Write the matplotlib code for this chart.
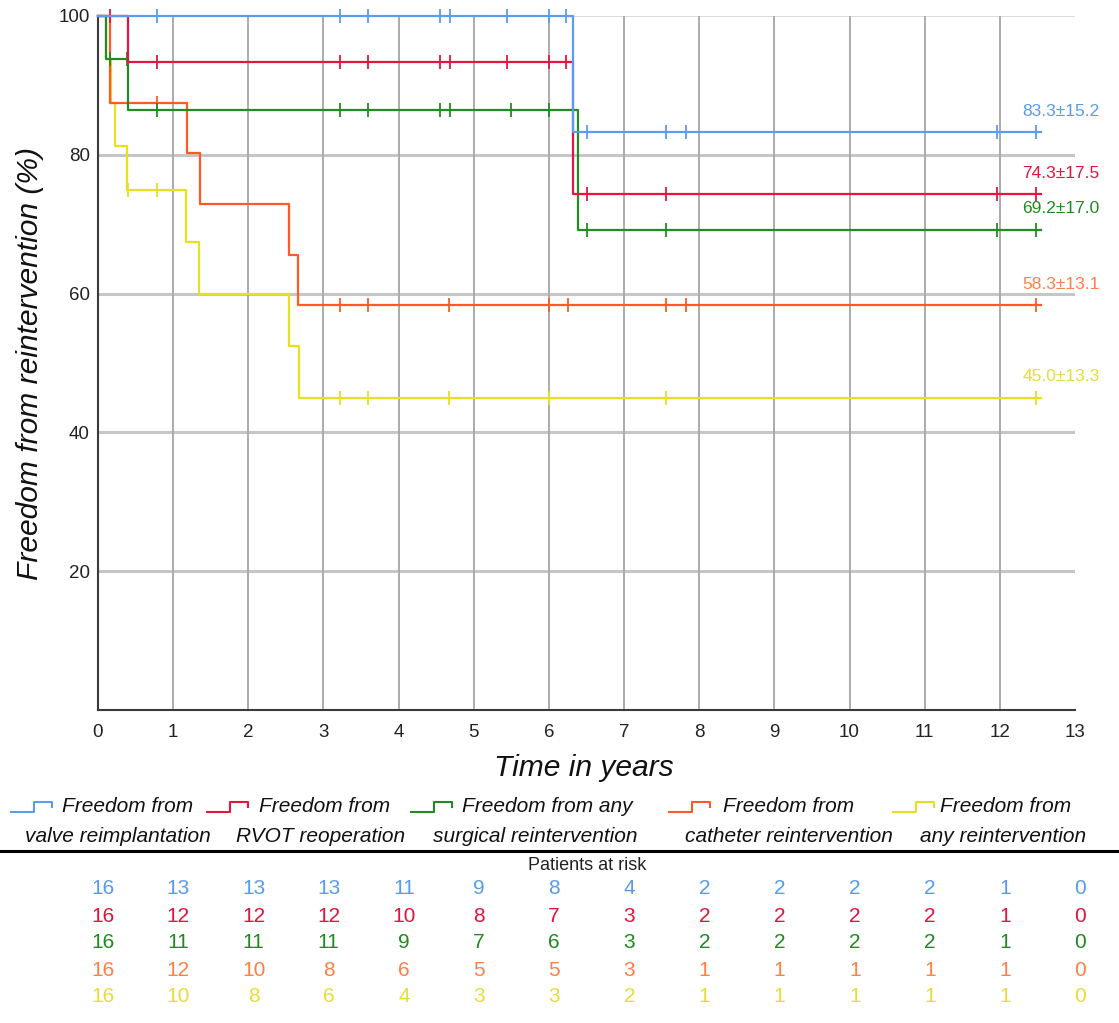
import numpy as np
import matplotlib.pyplot as plt
import matplotlib.transforms as mtransforms
from matplotlib.lines import Line2D

plt.rcParams['font.family'] = ['Liberation Sans', 'DejaVu Sans']

#%% data
years = np.arange(0, 14)

valve_t = [0, 6.32, 12.55]
valve_s = [100, 83.3, 83.3]
valve_cens = [0.79, 3.22, 3.59, 4.55, 4.68, 5.44, 6.0, 6.23, 6.5, 7.56, 7.83, 11.96, 12.48]

rvot_t = [0, 0.40, 6.32, 12.55]
rvot_s = [100, 93.3, 74.3, 74.3]
rvot_cens = [0.16, 0.79, 3.22, 3.59, 4.55, 4.68, 5.44, 6.0, 6.23, 6.5, 7.56, 11.96, 12.48]

surg_t = [0, 0.10, 0.40, 6.39, 12.55]
surg_s = [100, 93.75, 86.5, 69.2, 69.2]
surg_cens = [0.16, 0.39, 0.79, 3.22, 3.59, 4.55, 4.68, 5.49, 6.0, 6.5, 7.56, 11.96, 12.48]

cath_t = [0, 0.16, 1.18, 1.36, 2.54, 2.66, 12.55]
cath_s = [100, 87.5, 80.2, 72.9, 65.6, 58.3, 58.3]
cath_cens = [0.79, 3.22, 3.59, 4.67, 6.0, 6.25, 7.56, 7.83, 12.48]

any_t = [0, 0.10, 0.17, 0.22, 0.38, 1.17, 1.35, 2.54, 2.67, 12.55]
any_s = [100, 93.75, 87.5, 81.25, 75, 67.5, 60, 52.5, 45, 45]
any_cens = [0.40, 0.79, 3.22, 3.59, 4.67, 6.0, 7.56, 12.48]

final_labels = ['83.3±15.2', '74.3±17.5', '69.2±17.0', '58.3±13.1', '45.0±13.3']

risk_valve = [16, 13, 13, 13, 11, 9, 8, 4, 2, 2, 2, 2, 1, 0]
risk_rvot = [16, 12, 12, 12, 10, 8, 7, 3, 2, 2, 2, 2, 1, 0]
risk_surg = [16, 11, 11, 11, 9, 7, 6, 3, 2, 2, 2, 2, 1, 0]
risk_cath = [16, 12, 10, 8, 6, 5, 5, 3, 1, 1, 1, 1, 1, 0]
risk_any = [16, 10, 8, 6, 4, 3, 3, 2, 1, 1, 1, 1, 1, 0]

legend_line1 = ['Freedom from', 'Freedom from', 'Freedom from any', 'Freedom from', 'Freedom from']
legend_line2 = ['valve reimplantation', 'RVOT reoperation', 'surgical reintervention',
                'catheter reintervention', 'any reintervention']

line_cols = ['#5b9cf0', '#e5153f', '#238b23', '#ff5a26', '#e6e01e']
text_cols = ['#5a9be8', '#e0143c', '#1f8a1f', '#ff7f45', '#e6dc3a']

series = [(valve_t, valve_s, valve_cens), (rvot_t, rvot_s, rvot_cens),
          (surg_t, surg_s, surg_cens), (cath_t, cath_s, cath_cens),
          (any_t, any_s, any_cens)]
risks = [risk_valve, risk_rvot, risk_surg, risk_cath, risk_any]


def surv_at(t, s, x):
    idx = np.searchsorted(t, x, side='right') - 1
    return np.asarray(s)[idx]


W, H = 1119, 1023
fx = lambda px: px / W
fy = lambda py: 1 - py / H

fig = plt.figure(figsize=(W / 100, H / 100), dpi=100)
ax = fig.add_axes([fx(98), fy(710), (1075 - 98) / W, (710 - 16) / H])

# grid
for yv in [20, 40, 60, 80]:
    ax.axhline(yv, color='#c6c6c6', lw=2.2, zorder=0)
ax.axhline(100, color='#dcdcdc', lw=1.5, zorder=0)
for xv in range(1, 13):
    ax.axvline(xv, color='#ababab', lw=1.4, zorder=0)

# curves, drawn back to front
for i in [4, 3, 2, 1, 0]:
    t, s, c = series[i]
    ax.step(t, s, where='post', color=line_cols[i], lw=1.6, clip_on=False, zorder=2 + (4 - i))
    ax.plot(c, surv_at(t, s, c), ls='none', marker='|', ms=10, mew=1.3,
            color=line_cols[i], clip_on=False, zorder=2 + (4 - i))
    ax.text(12.3, s[-1] + 3.0, final_labels[i], color=text_cols[i], fontsize=12.5,
            ha='left', va='center')

ax.set_xlim(0, 13)
ax.set_ylim(0, 100)
ax.set_xticks(years)
ax.set_yticks([20, 40, 60, 80, 100])
ax.tick_params(length=0, labelsize=13.5, colors='#222222')
ax.tick_params(axis='x', pad=10)
ax.tick_params(axis='y', pad=6)
for sp in ['top', 'right']:
    ax.spines[sp].set_visible(False)
for sp in ['left', 'bottom']:
    ax.spines[sp].set_color('#3a3a3a')
    ax.spines[sp].set_linewidth(1.5)

fig.text(fx(30), fy(363), 'Freedom from reintervention (%)', rotation=90, fontsize=21.6,
         style='italic', ha='center', va='center', color='#111111')
fig.text(fx(584), fy(768), 'Time in years', fontsize=21.6, style='italic',
         ha='center', va='center', color='#111111')

# legend with little step icons
icon_x = [11, 207, 411, 669, 893]
text1_x = [62, 259, 462, 723, 940]
text2_c = [118, 321, 535, 789, 1003]
for i in range(5):
    x0 = icon_x[i]
    xs = [x0, x0 + 23, x0 + 23, x0 + 41, x0 + 41]
    ys = [812, 812, 802, 802, 807]
    fig.add_artist(Line2D([fx(v) for v in xs], [fy(v) for v in ys], color=line_cols[i],
                          lw=1.5, transform=fig.transFigure))
    fig.text(fx(text1_x[i]), fy(806), legend_line1[i], fontsize=15, style='italic',
             ha='left', va='center', color='#111111')
    fig.text(fx(text2_c[i]), fy(836), legend_line2[i], fontsize=15, style='italic',
             ha='center', va='center', color='#111111')

fig.add_artist(Line2D([0, 1], [fy(851), fy(851)], color='black', lw=2.2,
                      transform=fig.transFigure))

# patients at risk table
fig.text(fx(587), fy(866), 'Patients at risk', fontsize=13, ha='center', va='center',
         color='#222222')
trans = mtransforms.blended_transform_factory(ax.transData, fig.transFigure)
row_y = [889, 916, 943, 970, 997]
for i in range(5):
    for k, n in enumerate(risks[i]):
        ax.text(years[k] + 0.07, fy(row_y[i]), str(n), transform=trans, fontsize=15,
                ha='center', va='center', color=text_cols[i], clip_on=False)

fig.savefig('out.png', dpi=100)
